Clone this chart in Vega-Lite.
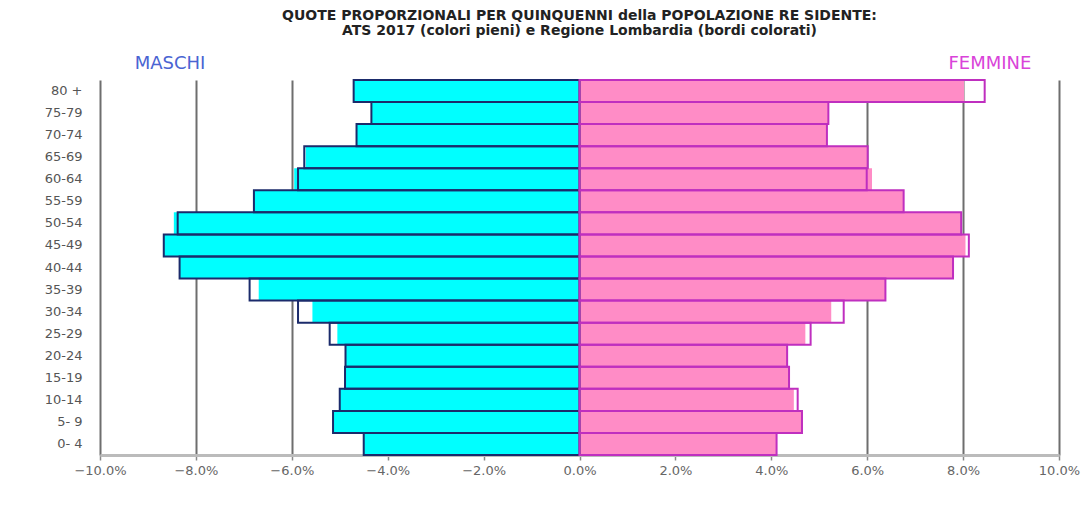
{
  "$schema": "https://vega.github.io/schema/vega-lite/v6.json",
  "autosize": {"type": "none"},
  "width": 959,
  "height": 375,
  "padding": {"left": 100, "top": 80, "right": 29, "bottom": 71},
  "background": "white",
  "title": {
    "text": ["QUOTE  PROPORZIONALI  PER QUINQUENNI  della POPOLAZIONE  RE SIDENTE:", "ATS 2017  (colori pieni) e Regione Lombardia (bordi colorati)"],
    "font": "DejaVu Sans",
    "fontSize": 14,
    "fontWeight": "bold",
    "color": "#222222",
    "anchor": "middle",
    "lineHeight": 15,
    "offset": 16
  },
  "data": {
    "values": [
      {"eta": "80 +", "sesso": "Maschi", "ats": -4.71, "lomb": -4.71},
      {"eta": "75-79", "sesso": "Maschi", "ats": -4.34, "lomb": -4.34},
      {"eta": "70-74", "sesso": "Maschi", "ats": -4.65, "lomb": -4.65},
      {"eta": "65-69", "sesso": "Maschi", "ats": -5.71, "lomb": -5.74},
      {"eta": "60-64", "sesso": "Maschi", "ats": -5.95, "lomb": -5.87},
      {"eta": "55-59", "sesso": "Maschi", "ats": -6.79, "lomb": -6.79},
      {"eta": "50-54", "sesso": "Maschi", "ats": -8.46, "lomb": -8.38},
      {"eta": "45-49", "sesso": "Maschi", "ats": -8.67, "lomb": -8.67},
      {"eta": "40-44", "sesso": "Maschi", "ats": -8.34, "lomb": -8.34},
      {"eta": "35-39", "sesso": "Maschi", "ats": -6.69, "lomb": -6.88},
      {"eta": "30-34", "sesso": "Maschi", "ats": -5.57, "lomb": -5.87},
      {"eta": "25-29", "sesso": "Maschi", "ats": -5.05, "lomb": -5.21},
      {"eta": "20-24", "sesso": "Maschi", "ats": -4.88, "lomb": -4.88},
      {"eta": "15-19", "sesso": "Maschi", "ats": -4.89, "lomb": -4.89},
      {"eta": "10-14", "sesso": "Maschi", "ats": -5.0, "lomb": -5.0},
      {"eta": "5- 9", "sesso": "Maschi", "ats": -5.14, "lomb": -5.14},
      {"eta": "0- 4", "sesso": "Maschi", "ats": -4.5, "lomb": -4.5},
      {"eta": "80 +", "sesso": "Femmine", "ats": 8.02, "lomb": 8.45},
      {"eta": "75-79", "sesso": "Femmine", "ats": 5.19, "lomb": 5.19},
      {"eta": "70-74", "sesso": "Femmine", "ats": 5.16, "lomb": 5.16},
      {"eta": "65-69", "sesso": "Femmine", "ats": 6.0, "lomb": 6.01},
      {"eta": "60-64", "sesso": "Femmine", "ats": 6.1, "lomb": 5.99},
      {"eta": "55-59", "sesso": "Femmine", "ats": 6.76, "lomb": 6.76},
      {"eta": "50-54", "sesso": "Femmine", "ats": 7.96, "lomb": 7.96},
      {"eta": "45-49", "sesso": "Femmine", "ats": 8.05, "lomb": 8.12},
      {"eta": "40-44", "sesso": "Femmine", "ats": 7.79, "lomb": 7.79},
      {"eta": "35-39", "sesso": "Femmine", "ats": 6.38, "lomb": 6.38},
      {"eta": "30-34", "sesso": "Femmine", "ats": 5.25, "lomb": 5.51},
      {"eta": "25-29", "sesso": "Femmine", "ats": 4.71, "lomb": 4.82},
      {"eta": "20-24", "sesso": "Femmine", "ats": 4.33, "lomb": 4.33},
      {"eta": "15-19", "sesso": "Femmine", "ats": 4.37, "lomb": 4.37},
      {"eta": "10-14", "sesso": "Femmine", "ats": 4.47, "lomb": 4.55},
      {"eta": "5- 9", "sesso": "Femmine", "ats": 4.64, "lomb": 4.64},
      {"eta": "0- 4", "sesso": "Femmine", "ats": 4.11, "lomb": 4.11}
    ]
  },
  "encoding": {
    "y": {
      "field": "eta",
      "type": "nominal",
      "scale": {
        "domain": ["80 +", "75-79", "70-74", "65-69", "60-64", "55-59", "50-54", "45-49", "40-44", "35-39", "30-34", "25-29", "20-24", "15-19", "10-14", "5- 9", "0- 4"],
        "paddingInner": 0,
        "paddingOuter": 0
      },
      "axis": {
        "title": null,
        "ticks": false,
        "domain": false,
        "labelFont": "DejaVu Sans",
        "labelFontSize": 13,
        "labelColor": "#555555",
        "labelAlign": "right",
        "labelPadding": 18
      }
    }
  },
  "layer": [
    {
      "mark": {"type": "bar", "strokeWidth": 0},
      "encoding": {
        "x": {
          "field": "ats",
          "type": "quantitative",
          "scale": {"domain": [-10, 10], "nice": false, "zero": false},
          "axis": {
            "title": null,
            "orient": "bottom",
            "values": [-10, -8, -6, -4, -2, 0, 2, 4, 6, 8, 10],
            "grid": true,
            "gridColor": "#6e6e6e",
            "gridWidth": 2,
            "gridOpacity": 1,
            "domainColor": "#bbbbbb",
            "domainWidth": 3,
            "tickColor": "#888888",
            "tickSize": 5,
            "tickWidth": 1.5,
            "labelExpr": "format(datum.value, '.1f') + '%'",
            "labelFont": "DejaVu Sans",
            "labelFontSize": 13,
            "labelColor": "#666666",
            "labelPadding": 4,
            "labelFlush": false,
            "labelOverlap": false
          }
        },
        "fill": {
          "field": "sesso",
          "type": "nominal",
          "scale": {"domain": ["Maschi", "Femmine"], "range": ["#00ffff", "#ff8cc6"]},
          "legend": null
        }
      }
    },
    {
      "mark": {"type": "bar", "fillOpacity": 0, "strokeWidth": 2},
      "encoding": {
        "x": {
          "field": "lomb",
          "type": "quantitative",
          "axis": {
            "title": null,
            "orient": "top",
            "values": [-8.55, 8.55],
            "grid": false,
            "domain": false,
            "ticks": false,
            "labelExpr": "datum.value < 0 ? 'MASCHI' : 'FEMMINE'",
            "labelColor": {"expr": "datum.value < 0 ? '#4a64d2' : '#d943d9'"},
            "labelFont": "DejaVu Sans",
            "labelFontSize": 18,
            "labelPadding": 8,
            "labelFlush": false,
            "labelOverlap": false
          }
        },
        "stroke": {
          "field": "sesso",
          "type": "nominal",
          "scale": {"domain": ["Maschi", "Femmine"], "range": ["#1b2b6b", "#bf2fbf"]},
          "legend": null
        }
      }
    }
  ],
  "resolve": {"axis": {"x": "independent"}},
  "config": {"view": {"stroke": null}}
}
